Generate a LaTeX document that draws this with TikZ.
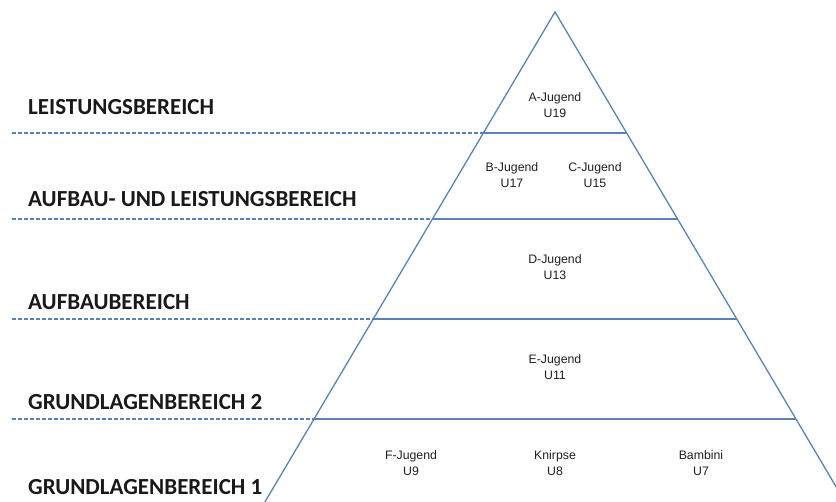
\documentclass[tikz,border=0pt]{standalone}
\usepackage{fontspec}
\setmainfont{Liberation Sans}
\newfontfamily\labelfont{Carlito}
\tikzset{
  edge/.style={draw=lineblue, line width=1.3pt},
  level/.style={draw=lineblue, line width=1.8pt},
  guide/.style={draw=lineblue, line width=1.4pt, dash pattern=on 4pt off 2pt},
  zone/.style={anchor=west, inner sep=0pt, font=\labelfont\bfseries\fontsize{23}{26}\selectfont, text=black!90},
  team/.style={align=center, inner sep=0pt, font=\fontsize{12.3}{15.5}\selectfont, text=black!88}
}
\definecolor{lineblue}{HTML}{5B82B8}
\begin{document}
\begin{tikzpicture}[x=1pt,y=-1pt]
\useasboundingbox (0,0) rectangle (836,502);
\clip (0,0) rectangle (836,502);
% triangle
\coordinate (apex) at (555,12);
\coordinate (bl) at (264.9,502);
\coordinate (br) at (845.1,502);
\coordinate (L1) at (483.4,133); \coordinate (R1) at (626.6,133);
\coordinate (L2) at (432.5,219); \coordinate (R2) at (677.5,219);
\coordinate (L3) at (373.3,319); \coordinate (R3) at (736.7,319);
\coordinate (L4) at (314.1,419); \coordinate (R4) at (795.9,419);
\coordinate (D1) at (12,133);
\coordinate (D2) at (12,219);
\coordinate (D3) at (12,319);
\coordinate (D4) at (12,419);
\draw[edge] (bl) -- (apex) -- (br);
\draw[level] (L1) -- (R1);
\draw[level] (L2) -- (R2);
\draw[level] (L3) -- (R3);
\draw[level] (L4) -- (R4);
\draw[guide] (D1) -- (L1);
\draw[guide] (D2) -- (L2);
\draw[guide] (D3) -- (L3);
\draw[guide] (D4) -- (L4);
% zone labels
\node[zone] (z1) at (28,107) {LEISTUNGSBEREICH};
\node[zone] (z2) at (28,199) {AUFBAU- UND LEISTUNGSBEREICH};
\node[zone] (z3) at (28,302) {AUFBAUBEREICH};
\node[zone] (z4) at (28,402) {GRUNDLAGENBEREICH 2};
\node[zone] (z5) at (28,487) {GRUNDLAGENBEREICH 1};
% teams
\node[team] (a) at (555,105) {A-Jugend\\U19};
\node[team] (b) at (512,175) {B-Jugend\\U17};
\node[team] (c) at (595,175) {C-Jugend\\U15};
\node[team] (d) at (555,267) {D-Jugend\\U13};
\node[team] (e) at (555,367) {E-Jugend\\U11};
\node[team] (f) at (411,463) {F-Jugend\\U9};
\node[team] (k) at (555,463) {Knirpse\\U8};
\node[team] (g) at (701,463) {Bambini\\U7};
\end{tikzpicture}
\end{document}
